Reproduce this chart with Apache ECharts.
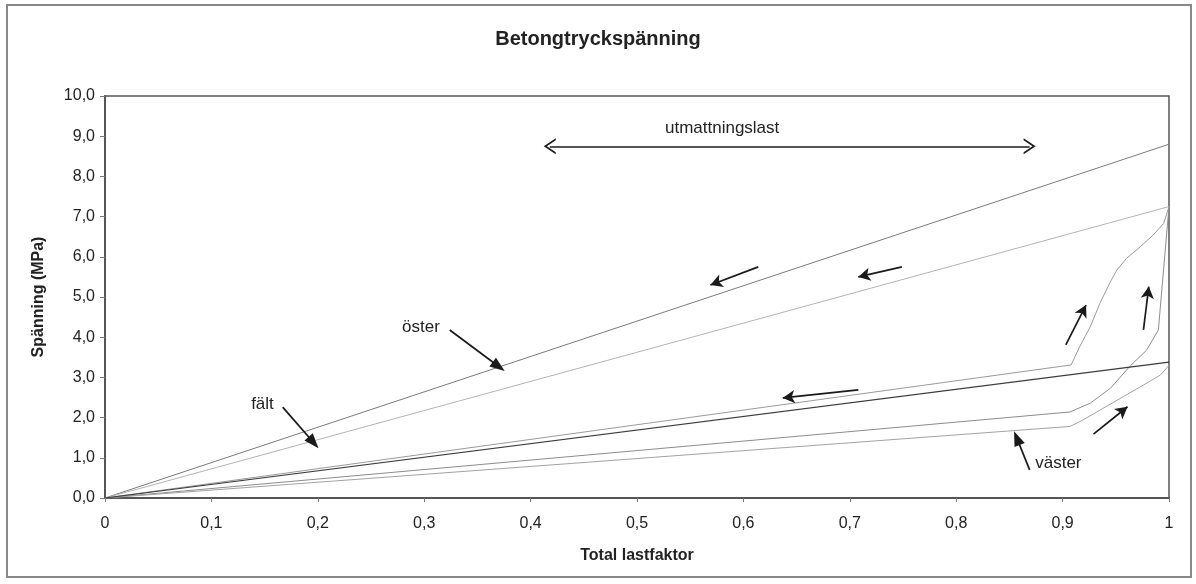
<!DOCTYPE html>
<html><head><meta charset="utf-8">
<script src="https://cdn.jsdelivr.net/npm/echarts@6/dist/echarts.min.js"></script>
<style>html,body{margin:0;padding:0;background:#fff}#c{width:1196px;height:584px}</style>
</head><body><div id="c"></div>
<script>
// ---- texts ----
const titleText = 'Betongtryckspänning';
const xAxisName = 'Total lastfaktor';
const yAxisName = 'Spänning (MPa)';

// ---- series values (x = total lastfaktor, y = spänning MPa) ----
const lineAX = [0, 1];
const lineAY = [0, 8.8];
const lineBX = [0, 1];
const lineBY = [0, 7.25];
const lineCX = [0, 1];
const lineCY = [0, 3.38];
const lineDX = [0, 0.908, 0.916, 0.926, 0.935, 0.945, 0.951, 0.96, 0.973, 0.985, 0.995, 1];
const lineDY = [0, 3.31, 3.76, 4.26, 4.84, 5.38, 5.67, 5.96, 6.25, 6.54, 6.83, 7.25];
const lineEX = [0, 0.907, 0.926, 0.945, 0.963, 0.979, 0.99, 1];
const lineEY = [0, 2.14, 2.36, 2.73, 3.27, 3.68, 4.18, 7.25];
const lineFX = [0, 0.907, 0.919, 0.938, 0.957, 0.976, 0.992, 1];
const lineFY = [0, 1.78, 1.94, 2.23, 2.52, 2.81, 3.06, 3.3];

// ---- annotations (data coordinates) ----
const arrowFrom = [[0.614,5.75],[0.749,5.75],[0.708,2.69],[0.903,3.81],[0.976,4.18],[0.929,1.59],[0.324,4.18],[0.167,2.26],[0.869,0.70]];
const arrowTo   = [[0.569,5.30],[0.708,5.50],[0.637,2.49],[0.922,4.80],[0.981,5.26],[0.961,2.27],[0.370,3.27],[0.196,1.38],[0.857,1.49]];
const arrowKind = ['small','small','small','small','small','small','big','big','big'];
const spanArrow = [[0.418,8.75],[0.869,8.75]];
const noteTexts = ['utmattningslast','öster','fält','väster'];
const noteX = [0.58, 0.297, 0.148, 0.896];
const noteY = [9.2, 4.25, 2.34, 0.87];

const pair = (xs, ys) => xs.map((x, i) => [x, ys[i]]);
const fmtY = v => v.toFixed(1).replace('.', ',');
const fmtX = v => (Math.abs(v) < 1e-9 ? '0' : Math.abs(v - 1) < 1e-9 ? '1' : v.toFixed(1).replace('.', ','));

const FONT = '"Liberation Sans", Arial, sans-serif';
const chevron = 'path://M0,10 L5,0 L10,10 L8.7,10 L5,2.6 L1.3,10 Z';

const lineSeries = (data, color, w, z) => ({
  type: 'line', data, showSymbol: false, symbol: 'none', silent: true,
  lineStyle: { color, width: w }, z
});

const arrowData = arrowFrom.map((f, i) => {
  const big = arrowKind[i] === 'big';
  return [
    { coord: f, symbol: 'none' },
    { coord: arrowTo[i], symbol: big ? 'triangle' : 'arrow', symbolSize: big ? [11, 15] : [10, 12] }
  ];
});
arrowData.push([
  { coord: spanArrow[0], symbol: chevron, symbolSize: [16, 12] },
  { coord: spanArrow[1], symbol: chevron, symbolSize: [16, 12] }
]);

const chart = echarts.init(document.getElementById('c'), null, { renderer: 'canvas' });
chart.setOption({
  animation: false,
  backgroundColor: '#fff',
  title: {
    text: titleText, left: 'center', top: 24,
    textStyle: { fontFamily: FONT, fontSize: 20, fontWeight: 'bold', color: '#222' }
  },
  grid: {
    left: 105, right: 27, top: 96, bottom: 86, show: true,
    borderColor: '#555', borderWidth: 1.5, backgroundColor: 'transparent'
  },
  xAxis: {
    type: 'value', min: 0, max: 1, interval: 0.1,
    name: xAxisName, nameLocation: 'middle', nameGap: 50,
    nameTextStyle: { fontFamily: FONT, fontSize: 16, fontWeight: 'bold', color: '#222' },
    axisLine: { show: true, lineStyle: { color: '#555', width: 2 } },
    axisTick: { show: true, length: 4, lineStyle: { color: '#777' } },
    axisLabel: { formatter: fmtX, margin: 18, fontFamily: FONT, fontSize: 16, color: '#222' },
    splitLine: { show: false }
  },
  yAxis: {
    type: 'value', min: 0, max: 10, interval: 1,
    name: yAxisName, nameLocation: 'middle', nameGap: 58, nameRotate: 90,
    nameTextStyle: { fontFamily: FONT, fontSize: 16, fontWeight: 'bold', color: '#222' },
    axisLine: { show: true, lineStyle: { color: '#555', width: 2 } },
    axisTick: { show: true, length: 5, lineStyle: { color: '#777' } },
    axisLabel: { formatter: fmtY, margin: 10, fontFamily: FONT, fontSize: 16, color: '#222' },
    splitLine: { show: false }
  },
  graphic: [{
    type: 'rect', silent: true, z: -10,
    shape: { x: 7, y: 5, width: 1184, height: 572 },
    style: { fill: 'none', stroke: '#888', lineWidth: 2 }
  }],
  series: [
    lineSeries(pair(lineAX, lineAY), '#7a7a7a', 1, 3),
    lineSeries(pair(lineBX, lineBY), '#b4b4b4', 1, 3),
    lineSeries(pair(lineDX, lineDY), '#9a9a9a', 1, 3),
    lineSeries(pair(lineEX, lineEY), '#8c8c8c', 1, 3),
    lineSeries(pair(lineFX, lineFY), '#a2a2a2', 1, 3),
    lineSeries(pair(lineCX, lineCY), '#3a3a3a', 1.2, 4),
    {
      type: 'line', data: [], silent: true, z: 6,
      markLine: {
        silent: true, animation: false,
        label: { show: false },
        lineStyle: { color: '#1a1a1a', width: 1.7, type: 'solid' },
        emphasis: { disabled: true },
        data: arrowData
      },
      markPoint: {
        silent: true, animation: false,
        symbol: 'circle', symbolSize: 0,
        label: { show: true, position: 'inside', formatter: p => p.name, fontFamily: FONT, fontSize: 17, color: '#222' },
        data: noteTexts.map((t, i) => ({ name: t, coord: [noteX[i], noteY[i]] }))
      }
    }
  ]
});
</script>
</body></html>
